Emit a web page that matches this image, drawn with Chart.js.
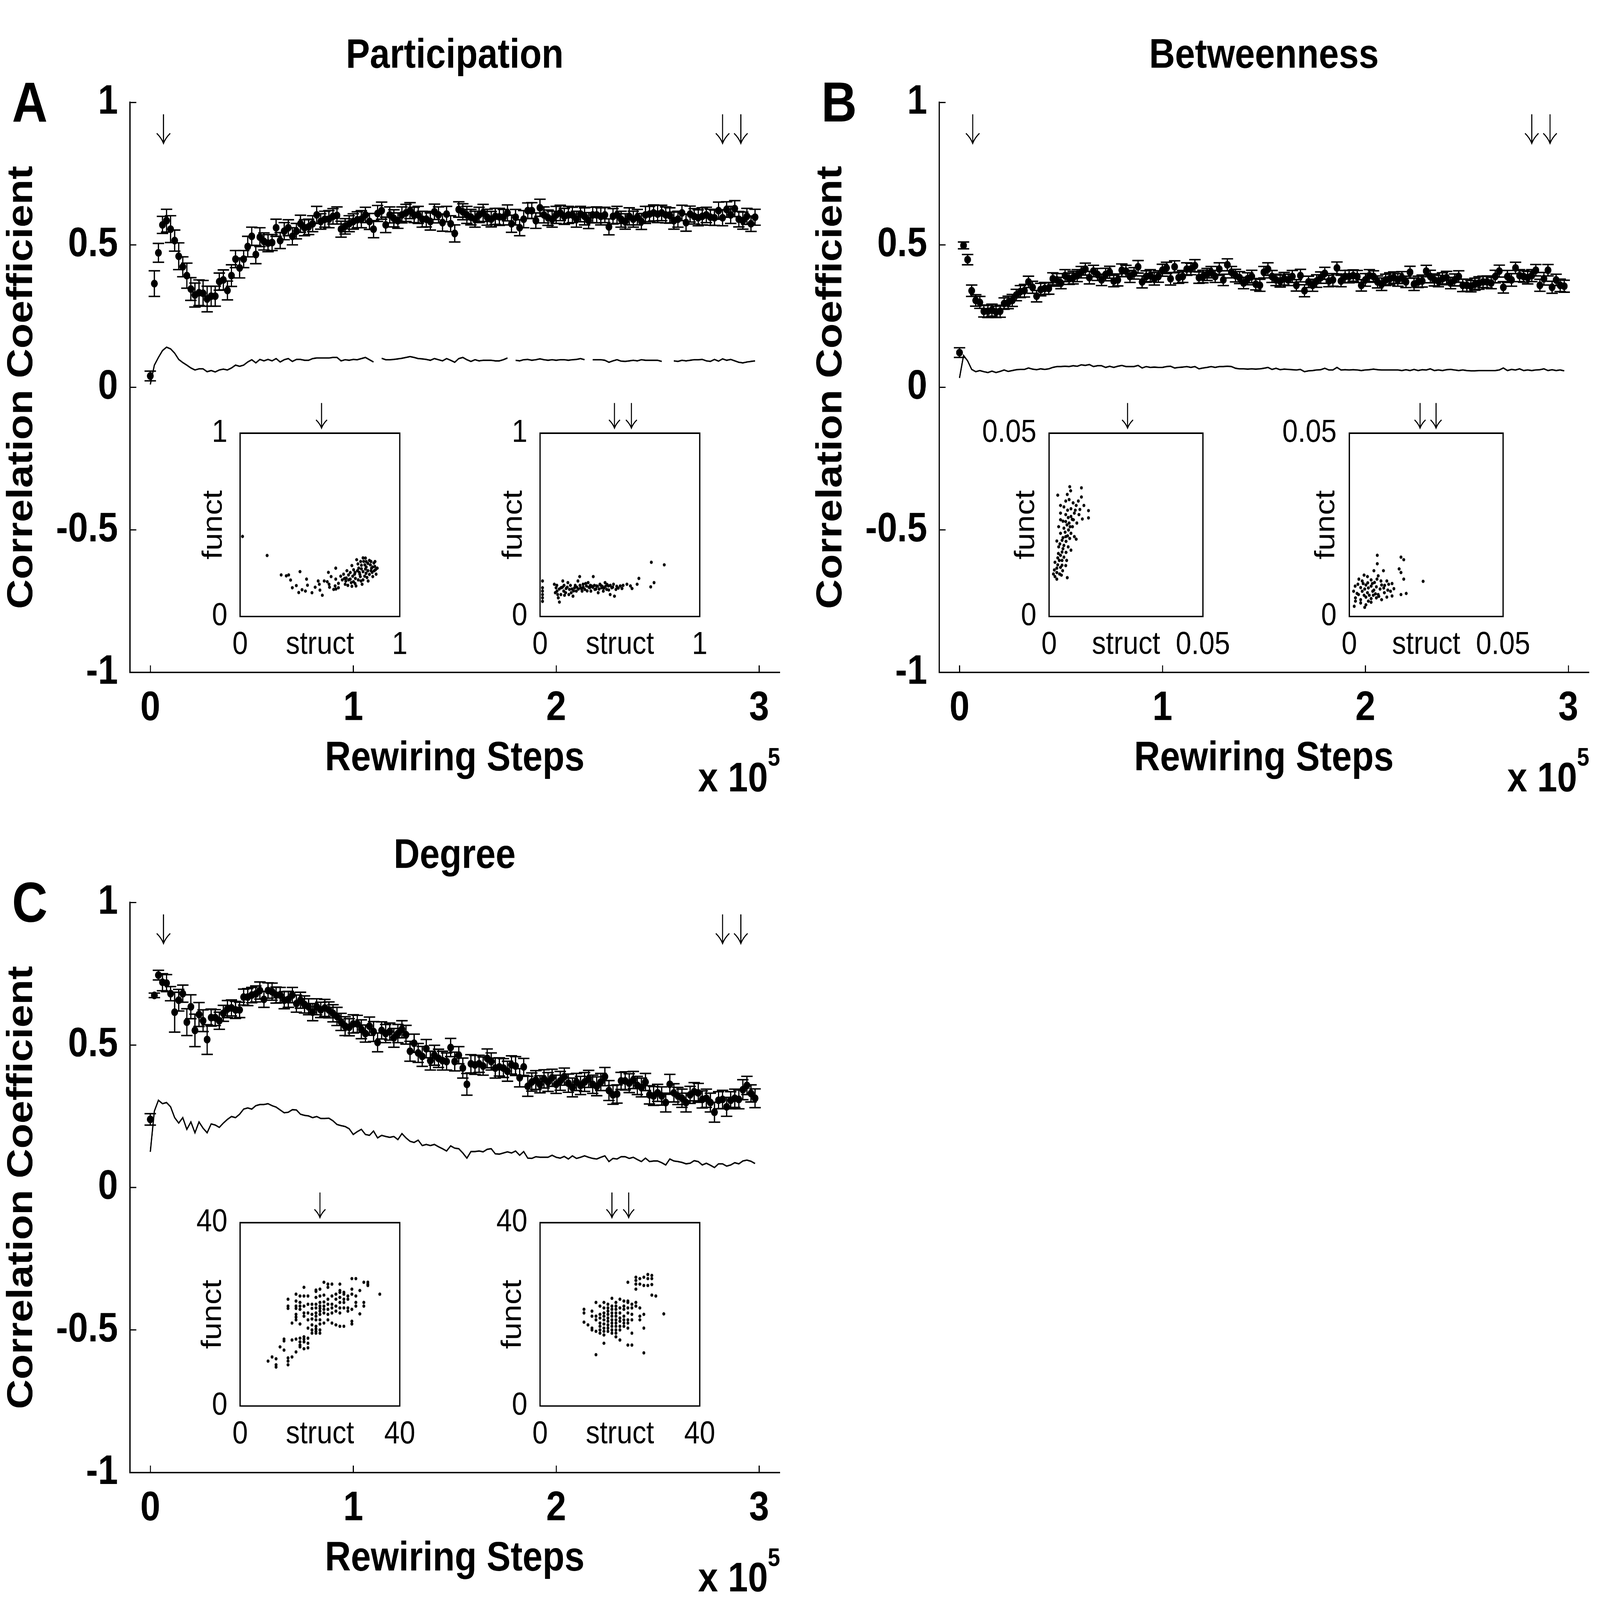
<!DOCTYPE html>
<html>
<head>
<meta charset="utf-8">
<title>Structure-function correlation during rewiring</title>
<script src="https://cdn.jsdelivr.net/npm/chart.js@4.4.1/dist/chart.umd.min.js"></script>
<style>
  html, body { margin: 0; padding: 0; background: #fff; overflow: hidden; }
  #page { position: relative; width: 7569px; height: 6615px; background: #fff;
          font-family: 'Liberation Sans', Arial, Helvetica, sans-serif; }
  .lbl { position: absolute; font-weight: bold; line-height: 1; white-space: nowrap; color: #000; }
</style>
</head>
<body>
<div id="page"></div>
<script>
// x axis: rewiring steps, one sample every 2000 steps (150 samples)
const stepSize = 2000;
const xRange = [-10000, 310000];
const xTicks = [0, 100000, 200000, 300000];
const yTicks = [-1, -0.5, 0, 0.5, 1];
const arrowSteps = [6500, 282000, 291000];

// Participation (A)
const participationMean = [
  0.04, 0.364, 0.472, 0.57, 0.585, 0.555, 0.515, 0.46, 0.423, 0.392,
  0.345, 0.324, 0.332, 0.33, 0.31, 0.32, 0.32, 0.371, 0.377, 0.34,
  0.392, 0.45, 0.419, 0.45, 0.494, 0.53, 0.466, 0.527, 0.512, 0.506,
  0.508, 0.56, 0.515, 0.548, 0.56, 0.53, 0.548, 0.574, 0.56, 0.563,
  0.574, 0.605, 0.582, 0.59, 0.59, 0.6, 0.603, 0.555, 0.565, 0.574,
  0.582, 0.588, 0.59, 0.605, 0.582, 0.555, 0.61, 0.62, 0.57, 0.605,
  0.593, 0.585, 0.605, 0.612, 0.62, 0.605, 0.605, 0.59, 0.59, 0.582,
  0.616, 0.605, 0.578, 0.608, 0.574, 0.54, 0.624, 0.616, 0.605, 0.597,
  0.59, 0.605, 0.612, 0.597, 0.59, 0.6, 0.598, 0.597, 0.612, 0.574,
  0.597, 0.56, 0.59, 0.62, 0.62, 0.585, 0.63, 0.605, 0.595, 0.59,
  0.605, 0.612, 0.6, 0.605, 0.605, 0.59, 0.608, 0.6, 0.585, 0.605,
  0.605, 0.6, 0.605, 0.563, 0.6, 0.605, 0.59, 0.582, 0.6, 0.59,
  0.597, 0.582, 0.605, 0.608, 0.612, 0.608, 0.612, 0.605, 0.603, 0.585,
  0.59, 0.612, 0.578, 0.608, 0.6, 0.595, 0.6, 0.605, 0.597, 0.595,
  0.62, 0.595, 0.624, 0.605, 0.627, 0.59, 0.585, 0.6, 0.574, 0.597
];
const participationErr = [
  0.017, 0.045, 0.033, 0.03, 0.04, 0.047, 0.037, 0.047, 0.035, 0.044,
  0.04, 0.042, 0.045, 0.045, 0.045, 0.035, 0.035, 0.03, 0.035, 0.033,
  0.038, 0.03, 0.035, 0.03, 0.036, 0.032, 0.032, 0.033, 0.03, 0.03,
  0.028, 0.03, 0.028, 0.03, 0.028, 0.03, 0.027, 0.03, 0.028, 0.027,
  0.028, 0.03, 0.027, 0.028, 0.03, 0.027, 0.03, 0.028, 0.027, 0.028,
  0.027, 0.028, 0.03, 0.027, 0.028, 0.03, 0.028, 0.03, 0.027, 0.028,
  0.03, 0.027, 0.028, 0.03, 0.028, 0.027, 0.03, 0.028, 0.027, 0.03,
  0.027, 0.028, 0.03, 0.027, 0.028, 0.03, 0.027, 0.028, 0.03, 0.027,
  0.028, 0.027, 0.03, 0.028, 0.027, 0.028, 0.03, 0.027, 0.028, 0.03,
  0.027, 0.028, 0.03, 0.027, 0.028, 0.027, 0.03, 0.028, 0.027, 0.028,
  0.03, 0.027, 0.028, 0.03, 0.027, 0.028, 0.027, 0.03, 0.028, 0.027,
  0.028, 0.03, 0.027, 0.028, 0.027, 0.03, 0.028, 0.027, 0.03, 0.028,
  0.027, 0.028, 0.03, 0.027, 0.028, 0.03, 0.027, 0.028, 0.027, 0.03,
  0.028, 0.027, 0.03, 0.028, 0.027, 0.028, 0.03, 0.027, 0.028, 0.027,
  0.03, 0.028, 0.027, 0.03, 0.028, 0.027, 0.03, 0.028, 0.027, 0.028
];
const participationNull = [
  0.01, 0.078, 0.105, 0.129, 0.141, 0.135, 0.12, 0.098, 0.087, 0.078,
  0.068, 0.061, 0.065, 0.065, 0.055, 0.059, 0.054, 0.061, 0.064, 0.061,
  0.068, 0.078, 0.074, 0.078, 0.089, 0.097, 0.086, 0.098, 0.093, 0.098,
  0.093, 0.101, 0.089, 0.097, 0.101, 0.091, 0.098, 0.098, 0.095, 0.095,
  0.101, 0.103, 0.103, 0.103, 0.103, 0.105, 0.105, 0.093, 0.097, 0.095,
  0.098, 0.097, 0.101, 0.105, 0.097, 0.089, null, 0.102, 0.097, 0.097,
  0.098, 0.1, 0.102, 0.105, 0.108, 0.105, 0.101, 0.1, 0.098, 0.095,
  0.101, 0.097, 0.093, 0.101, 0.095, 0.088, 0.101, 0.105, 0.097, 0.091,
  0.097, 0.093, 0.095, 0.095, 0.095, 0.093, 0.093, 0.097, 0.103, null,
  0.095, 0.093, 0.097, 0.098, 0.095, 0.097, 0.1, 0.097, 0.095, 0.097,
  0.095, 0.097, 0.097, 0.095, 0.097, 0.098, 0.101, 0.097, null, 0.097,
  0.097, 0.097, 0.095, 0.088, 0.093, 0.097, 0.092, 0.091, 0.093, 0.095,
  0.093, 0.097, 0.095, 0.095, 0.095, 0.095, 0.091, null, null, 0.093,
  0.091, 0.095, 0.093, 0.095, 0.097, 0.097, 0.098, 0.093, 0.091, 0.098,
  0.092, 0.1, 0.095, 0.098, 0.093, 0.088, 0.086, 0.089, 0.091, 0.093
];

// Betweenness (B)
const betweennessMean = [
  0.122, 0.498, 0.448, 0.339, 0.305, 0.298, 0.267, 0.267, 0.271, 0.265,
  0.267, 0.294, 0.298, 0.305, 0.324, 0.336, 0.339, 0.37, 0.351, 0.32,
  0.343, 0.347, 0.347, 0.381, 0.377, 0.366, 0.392, 0.381, 0.385, 0.392,
  0.404, 0.415, 0.385, 0.408, 0.396, 0.377, 0.396, 0.404, 0.373, 0.377,
  0.411, 0.408, 0.389, 0.4, 0.423, 0.37, 0.389, 0.392, 0.381, 0.389,
  0.411, 0.419, 0.381, 0.423, 0.385, 0.389, 0.415, 0.415, 0.427, 0.385,
  0.389, 0.396, 0.404, 0.389, 0.415, 0.377, 0.43, 0.404, 0.392, 0.385,
  0.366, 0.381, 0.389, 0.362, 0.358, 0.404, 0.415, 0.389, 0.377, 0.373,
  0.381, 0.377, 0.389, 0.358, 0.392, 0.339, 0.37, 0.358, 0.373, 0.385,
  0.4, 0.373, 0.377, 0.419, 0.373, 0.389, 0.389, 0.392, 0.389, 0.358,
  0.377, 0.392, 0.389, 0.37, 0.362, 0.377, 0.381, 0.385, 0.377, 0.385,
  0.37, 0.404, 0.362, 0.37, 0.373, 0.408, 0.389, 0.377, 0.373, 0.381,
  0.385, 0.366, 0.377, 0.389, 0.358, 0.358, 0.355, 0.362, 0.366, 0.37,
  0.37, 0.366, 0.389, 0.408, 0.351, 0.389, 0.377, 0.419, 0.392, 0.389,
  0.385, 0.392, 0.411, 0.358, 0.381, 0.411, 0.351, 0.377, 0.358, 0.355
];
const betweennessErr = [
  0.017, 0.012, 0.018, 0.02, 0.02, 0.021, 0.02, 0.022, 0.021, 0.02,
  0.021, 0.02, 0.022, 0.021, 0.02, 0.021, 0.022, 0.02, 0.021, 0.02,
  0.022, 0.021, 0.02, 0.021, 0.022, 0.02, 0.021, 0.02, 0.022, 0.021,
  0.02, 0.021, 0.022, 0.02, 0.021, 0.02, 0.022, 0.021, 0.02, 0.021,
  0.022, 0.02, 0.021, 0.02, 0.022, 0.021, 0.02, 0.021, 0.022, 0.02,
  0.021, 0.02, 0.022, 0.021, 0.02, 0.021, 0.022, 0.02, 0.021, 0.02,
  0.022, 0.021, 0.02, 0.021, 0.022, 0.02, 0.021, 0.02, 0.022, 0.021,
  0.02, 0.021, 0.022, 0.02, 0.021, 0.02, 0.022, 0.021, 0.02, 0.021,
  0.022, 0.02, 0.021, 0.02, 0.022, 0.021, 0.02, 0.021, 0.022, 0.02,
  0.021, 0.02, 0.022, 0.021, 0.02, 0.021, 0.022, 0.02, 0.021, 0.02,
  0.022, 0.021, 0.02, 0.021, 0.022, 0.02, 0.021, 0.02, 0.022, 0.021,
  0.02, 0.021, 0.022, 0.02, 0.021, 0.02, 0.022, 0.021, 0.02, 0.021,
  0.022, 0.02, 0.021, 0.02, 0.022, 0.021, 0.02, 0.021, 0.022, 0.02,
  0.021, 0.02, 0.022, 0.021, 0.02, 0.021, 0.022, 0.02, 0.021, 0.02,
  0.022, 0.021, 0.02, 0.021, 0.022, 0.02, 0.021, 0.02, 0.022, 0.021
];
const betweennessNull = [
  0.033, 0.112, 0.093, 0.063, 0.055, 0.059, 0.055, 0.052, 0.057, 0.052,
  0.056, 0.061, 0.056, 0.059, 0.062, 0.063, 0.063, 0.068, 0.064, 0.062,
  0.065, 0.063, 0.065, 0.07, 0.073, 0.073, 0.074, 0.073, 0.076, 0.074,
  0.079, 0.077, 0.08, 0.073, 0.076, 0.076, 0.07, 0.074, 0.07, 0.074,
  0.077, 0.073, 0.073, 0.073, 0.077, 0.068, 0.073, 0.07, 0.071, 0.07,
  0.07, 0.073, 0.074, 0.068, 0.07, 0.071, 0.073, 0.07, 0.073, 0.065,
  0.068, 0.07, 0.073, 0.07, 0.073, 0.073, 0.074, 0.073, 0.067, 0.065,
  0.065, 0.064, 0.065, 0.064, 0.065, 0.067, 0.07, 0.063, 0.067, 0.062,
  0.064, 0.063, 0.062, 0.061, 0.063, 0.055, 0.058, 0.059, 0.061, 0.062,
  0.067, 0.061, 0.061, 0.07, 0.061, 0.062, 0.061, 0.062, 0.061, 0.059,
  0.061, 0.062, 0.064, 0.062, 0.061, 0.061, 0.061, 0.061, 0.061, 0.059,
  0.062, 0.059, 0.063, 0.059, 0.062, 0.061, 0.065, 0.059, 0.061, 0.059,
  0.062, 0.063, 0.061, 0.059, 0.061, 0.059, 0.058, 0.058, 0.059, 0.059,
  0.059, 0.059, 0.059, 0.061, 0.068, 0.059, 0.063, 0.061, 0.065, 0.059,
  0.061, 0.059, 0.061, 0.062, 0.065, 0.059, 0.062, 0.059, 0.061, 0.058
];

// Degree (C)
const degreeMean = [
  0.239, 0.674, 0.745, 0.72, 0.717, 0.68, 0.615, 0.657, 0.68, 0.58,
  0.634, 0.551, 0.607, 0.585, 0.519, 0.596, 0.596, 0.585, 0.611, 0.626,
  0.63, 0.623, 0.623, 0.668, 0.668, 0.675, 0.679, 0.691, 0.66, 0.691,
  0.687, 0.675, 0.675, 0.657, 0.66, 0.675, 0.645, 0.657, 0.642, 0.634,
  0.615, 0.634, 0.623, 0.63, 0.623, 0.611, 0.6, 0.581, 0.566, 0.562,
  0.574, 0.574, 0.555, 0.54, 0.566, 0.547, 0.509, 0.551, 0.54, 0.547,
  0.525, 0.54, 0.555, 0.536, 0.478, 0.506, 0.472, 0.46, 0.487, 0.445,
  0.464, 0.453, 0.445, 0.442, 0.491, 0.442, 0.464, 0.419, 0.362, 0.434,
  0.43, 0.434, 0.426, 0.453, 0.442, 0.419, 0.423, 0.419, 0.408, 0.43,
  0.426, 0.385, 0.423, 0.355, 0.37, 0.377, 0.362, 0.381, 0.37, 0.385,
  0.362, 0.374, 0.389, 0.366, 0.351, 0.37, 0.358, 0.37, 0.381, 0.362,
  0.355, 0.37, 0.389, 0.34, 0.325, 0.328, 0.374, 0.374, 0.366, 0.377,
  0.358, 0.351, 0.37, 0.325, 0.321, 0.332, 0.321, 0.298, 0.362, 0.332,
  0.321, 0.313, 0.298, 0.325, 0.336, 0.332, 0.309, 0.313, 0.298, 0.264,
  0.306, 0.309, 0.283, 0.306, 0.313, 0.309, 0.343, 0.358, 0.33, 0.313
];
const degreeErr = [
  0.02, 0.008, 0.017, 0.03, 0.03, 0.025, 0.07, 0.038, 0.03, 0.047,
  0.042, 0.057, 0.042, 0.038, 0.052, 0.03, 0.028, 0.03, 0.028, 0.03,
  0.028, 0.03, 0.027, 0.028, 0.03, 0.027, 0.028, 0.03, 0.028, 0.027,
  0.03, 0.028, 0.027, 0.03, 0.028, 0.027, 0.03, 0.028, 0.03, 0.028,
  0.03, 0.028, 0.027, 0.03, 0.028, 0.03, 0.032, 0.03, 0.033, 0.03,
  0.032, 0.03, 0.033, 0.03, 0.032, 0.035, 0.033, 0.03, 0.032, 0.03,
  0.033, 0.032, 0.03, 0.033, 0.035, 0.032, 0.033, 0.035, 0.032, 0.033,
  0.035, 0.032, 0.033, 0.03, 0.032, 0.033, 0.03, 0.035, 0.038, 0.032,
  0.033, 0.03, 0.032, 0.033, 0.03, 0.035, 0.032, 0.033, 0.035, 0.032,
  0.033, 0.032, 0.03, 0.035, 0.032, 0.033, 0.03, 0.032, 0.033, 0.03,
  0.032, 0.033, 0.03, 0.032, 0.033, 0.03, 0.032, 0.033, 0.03, 0.032,
  0.033, 0.03, 0.032, 0.035, 0.033, 0.032, 0.03, 0.032, 0.033, 0.03,
  0.032, 0.033, 0.03, 0.032, 0.033, 0.03, 0.032, 0.033, 0.035, 0.032,
  0.03, 0.032, 0.033, 0.03, 0.032, 0.033, 0.03, 0.032, 0.033, 0.035,
  0.03, 0.032, 0.033, 0.03, 0.032, 0.033, 0.035, 0.032, 0.03, 0.033
];
const degreeNull = [
  0.125, 0.268, 0.306, 0.294, 0.298, 0.283, 0.245, 0.226, 0.245, 0.204,
  0.23, 0.192, 0.23, 0.208, 0.192, 0.223, 0.219, 0.211, 0.226, 0.239,
  0.249, 0.245, 0.257, 0.275, 0.279, 0.275, 0.287, 0.291, 0.291, 0.294,
  0.287, 0.282, 0.272, 0.262, 0.264, 0.273, 0.272, 0.257, 0.253, 0.251,
  0.245, 0.249, 0.242, 0.242, 0.243, 0.234, 0.221, 0.217, 0.214, 0.206,
  0.186, 0.196, 0.204, 0.186, 0.183, 0.198, 0.174, 0.183, 0.179, 0.176,
  0.179, 0.168, 0.189, 0.174, 0.162, 0.158, 0.166, 0.147, 0.151, 0.147,
  0.151, 0.143, 0.136, 0.128, 0.146, 0.138, 0.136, 0.121, 0.103, 0.126,
  0.126, 0.128, 0.125, 0.134, 0.136, 0.118, 0.117, 0.121, 0.125, 0.121,
  0.128, 0.113, 0.126, 0.103, 0.102, 0.108, 0.106, 0.106, 0.106, 0.113,
  0.106, 0.103, 0.109, 0.1, 0.111, 0.102, 0.106, 0.111, 0.106, 0.102,
  0.1, 0.106, 0.111, 0.091, 0.102, 0.1, 0.108, 0.108, 0.102, 0.106,
  0.098, 0.091, 0.103, 0.091, 0.093, 0.093, 0.087, 0.079, 0.1, 0.093,
  0.091, 0.088, 0.083, 0.085, 0.094, 0.091, 0.079, 0.085, 0.078, 0.07,
  0.083, 0.083, 0.075, 0.079, 0.087, 0.083, 0.093, 0.096, 0.092, 0.084
];

// inset scatters: [struct, funct] per node, early (single arrow) and late (double arrow)
const participationEarly = [
  [0.015,0.437],[0.169,0.333],[0.257,0.227],[0.289,0.222],[0.304,0.227],[0.316,0.199],[0.375,0.245],
  [0.416,0.204],[0.327,0.157],[0.352,0.169],[0.367,0.131],[0.388,0.146],[0.409,0.139],[0.422,0.171],
  [0.489,0.194],[0.496,0.176],[0.5,0.144],[0.515,0.116],[0.527,0.194],[0.546,0.19],[0.557,0.176],
  [0.553,0.241],[0.57,0.218],[0.586,0.148],[0.595,0.167],[0.599,0.204],[0.599,0.264],[0.616,0.157],
  [0.616,0.181],[0.648,0.231],[0.654,0.208],[0.662,0.194],[0.658,0.176],[0.669,0.25],[0.679,0.227],
  [0.69,0.204],[0.696,0.185],[0.7,0.278],[0.711,0.255],[0.717,0.231],[0.722,0.208],[0.726,0.167],
  [0.73,0.31],[0.738,0.287],[0.743,0.264],[0.747,0.241],[0.753,0.218],[0.757,0.194],[0.764,0.176],
  [0.774,0.301],[0.781,0.282],[0.785,0.259],[0.789,0.236],[0.795,0.213],[0.802,0.194],[0.785,0.319],
  [0.81,0.306],[0.816,0.282],[0.823,0.264],[0.827,0.241],[0.831,0.218],[0.838,0.292],[0.844,0.273],
  [0.848,0.255],[0.852,0.231],[0.859,0.264],[0.68,0.2],[0.705,0.22],[0.72,0.24],[0.735,0.25],
  [0.75,0.23],[0.76,0.26],[0.77,0.245],[0.78,0.22],[0.79,0.27],[0.8,0.25],[0.81,0.23],[0.82,0.25],
  [0.83,0.27],[0.845,0.3],[0.8,0.29],[0.76,0.28],[0.74,0.2],[0.71,0.19],[0.69,0.24],[0.665,0.21],
  [0.675,0.17],[0.64,0.2],[0.63,0.22],[0.7,0.165],[0.72,0.18],[0.77,0.2],[0.79,0.3],[0.77,0.32],
  [0.82,0.3],[0.84,0.25],[0.755,0.3],[0.6,0.15],[0.56,0.16],[0.45,0.13],[0.47,0.16]
];
const participationLate = [
  [0.015,0.194],[0.015,0.157],[0.015,0.139],[0.015,0.12],[0.015,0.102],[0.015,0.083],[0.089,0.176],
  [0.1,0.157],[0.106,0.139],[0.11,0.12],[0.114,0.102],[0.121,0.079],[0.131,0.157],[0.142,0.194],
  [0.148,0.139],[0.153,0.116],[0.163,0.153],[0.174,0.185],[0.184,0.148],[0.195,0.13],[0.206,0.111],
  [0.216,0.157],[0.227,0.139],[0.237,0.194],[0.248,0.218],[0.254,0.157],[0.263,0.139],[0.269,0.176],
  [0.28,0.148],[0.29,0.167],[0.301,0.185],[0.311,0.157],[0.318,0.139],[0.322,0.167],[0.333,0.218],
  [0.343,0.148],[0.354,0.167],[0.364,0.13],[0.375,0.176],[0.386,0.157],[0.396,0.139],[0.407,0.185],
  [0.417,0.148],[0.428,0.167],[0.439,0.12],[0.449,0.157],[0.46,0.176],[0.466,0.111],[0.475,0.148],
  [0.502,0.167],[0.513,0.153],[0.544,0.176],[0.566,0.167],[0.576,0.153],[0.608,0.176],[0.619,0.208],
  [0.693,0.162],[0.697,0.296],[0.714,0.185],[0.778,0.282],[0.095,0.13],[0.105,0.17],[0.12,0.15],
  [0.13,0.12],[0.14,0.16],[0.15,0.17],[0.16,0.13],[0.17,0.16],[0.18,0.12],[0.19,0.17],[0.2,0.15],
  [0.21,0.14],[0.22,0.17],[0.23,0.16],[0.24,0.15],[0.25,0.17],[0.26,0.15],[0.27,0.16],[0.285,0.18],
  [0.295,0.14],[0.305,0.16],[0.315,0.17],[0.33,0.16],[0.34,0.17],[0.35,0.15],[0.36,0.165],[0.37,0.15],
  [0.38,0.17],[0.39,0.165],[0.4,0.155],[0.41,0.165],[0.42,0.175],[0.43,0.145],[0.44,0.17],[0.455,0.16],
  [0.48,0.165],[0.49,0.155],[0.52,0.17]
];
const betweennessEarly = [
  [0.0105,0.0351],[0.0067,0.0354],[0.007,0.0343],[0.0059,0.0333],[0.0028,0.0331],[0.0105,0.0326],
  [0.0065,0.0319],[0.0054,0.0315],[0.0037,0.0303],[0.0048,0.0299],[0.0071,0.0294],[0.0088,0.0303],
  [0.0113,0.0303],[0.01,0.0292],[0.0128,0.0289],[0.0037,0.0282],[0.0054,0.0278],[0.0071,0.0273],
  [0.0082,0.0282],[0.0097,0.0278],[0.0128,0.0269],[0.0108,0.0266],[0.0037,0.0264],[0.0054,0.0259],
  [0.0065,0.0255],[0.0079,0.0264],[0.009,0.0255],[0.0031,0.0245],[0.0048,0.0241],[0.0063,0.0236],
  [0.0076,0.0245],[0.0071,0.0227],[0.0037,0.0227],[0.0054,0.0218],[0.0042,0.0208],[0.0067,0.0213],
  [0.0082,0.0218],[0.0025,0.0206],[0.0088,0.0211],[0.0048,0.0194],[0.0031,0.019],[0.0071,0.0181],
  [0.0042,0.0176],[0.0037,0.0167],[0.0048,0.0162],[0.0042,0.0153],[0.0033,0.0153],[0.0019,0.0148],
  [0.0028,0.0141],[0.0037,0.0134],[0.0054,0.0139],[0.0057,0.0153],[0.0017,0.0127],[0.0025,0.012],
  [0.0034,0.0116],[0.0044,0.0125],[0.0014,0.0116],[0.0019,0.0109],[0.0025,0.0102],[0.0059,0.0106],
  [0.004,0.0113],[0.006,0.029],[0.0062,0.027],[0.0058,0.025],[0.0045,0.026],[0.0068,0.0245],
  [0.0052,0.023],[0.006,0.022],[0.0045,0.0215],[0.0035,0.0198],[0.0055,0.0205],[0.0062,0.019],
  [0.0045,0.0185],[0.003,0.0172],[0.0055,0.0175],[0.0028,0.016],[0.0042,0.014],[0.0025,0.0132],
  [0.0075,0.0265],[0.0085,0.029],[0.0078,0.031],[0.0095,0.0315]
];
const betweennessLate = [
  [0.0091,0.0167],[0.0168,0.0162],[0.0177,0.0155],[0.0091,0.0144],[0.008,0.0125],[0.0111,0.0125],
  [0.0162,0.013],[0.0168,0.012],[0.0048,0.0113],[0.0059,0.0109],[0.0094,0.0111],[0.0031,0.0102],
  [0.0042,0.0097],[0.0071,0.01],[0.0082,0.0093],[0.0103,0.0097],[0.0122,0.0097],[0.0177,0.0102],
  [0.024,0.0096],[0.0019,0.0083],[0.0037,0.0079],[0.0054,0.0086],[0.0071,0.0083],[0.0088,0.0081],
  [0.0105,0.0086],[0.0128,0.0088],[0.0139,0.009],[0.0014,0.0069],[0.0025,0.0063],[0.0042,0.0069],
  [0.0059,0.0065],[0.0076,0.0069],[0.0094,0.006],[0.0114,0.0065],[0.0134,0.0069],[0.0145,0.0076],
  [0.0168,0.006],[0.0185,0.0063],[0.0139,0.0056],[0.002,0.0051],[0.0037,0.0046],[0.0054,0.0053],
  [0.0071,0.0049],[0.0088,0.0051],[0.0105,0.0046],[0.0122,0.0053],[0.0016,0.0028],[0.0037,0.0037],
  [0.0054,0.0032],[0.0071,0.0039],[0.005,0.0025],[0.003,0.006],[0.005,0.0075],[0.0065,0.0058],
  [0.008,0.0072],[0.0062,0.0078],[0.0048,0.0058],[0.0085,0.0062],[0.01,0.0075],[0.0112,0.0078],
  [0.0028,0.0088],[0.0045,0.009],[0.006,0.0092],[0.0075,0.009],[0.009,0.0102],[0.002,0.0042],
  [0.0062,0.0042],[0.0078,0.0058],[0.0096,0.0055],[0.0115,0.0085],[0.0125,0.0072]
];
const degreeEarly = [
  [7,9.8],[8,10.7],[9,10.3],[9,9.0],[9,8.5],[10,12.9],[11,14.6],[11,14.2],[11,12.2],
  [12,23.3],[12,21.8],[12,21.3],[12,10.5],[12,9.8],[12,9.0],[13,18.1],[13,14.4],[13,10.7],
  [14,24.4],[14,22.9],[14,21.8],[14,21.3],[14,20.0],[14,19.4],[14,18.8],[14,14.6],[14,11.8],
  [15,24.0],[15,22.6],[15,21.8],[15,21.1],[15,17.9],[15,14.8],[15,14.0],[15,13.3],[15,12.9],
  [16,25.9],[16,24.0],[16,21.8],[16,20.3],[16,19.6],[16,15.1],[16,14.6],[16,14.0],[16,12.5],
  [17,24.0],[17,22.2],[17,20.3],[17,18.8],[17,17.0],[17,14.8],[17,13.7],[17,12.7],
  [18,22.2],[18,21.3],[18,20.0],[18,19.0],[18,17.7],[18,16.6],[18,15.9],
  [19,25.3],[19,25.0],[19,23.7],[19,22.2],[19,21.4],[19,20.3],[19,19.6],[19,18.8],[19,17.4],[19,16.8],[19,16.3],[19,15.9],
  [20,25.5],[20,24.0],[20,22.6],[20,21.8],[20,21.3],[20,20.7],[20,20.0],[20,18.8],[20,17.9],[20,16.6],[20,15.9],
  [21,27.0],[21,24.2],[21,22.7],[21,21.8],[21,21.1],[21,20.3],[21,18.1],
  [22,26.6],[22,25.9],[22,23.3],[22,22.2],[22,21.1],[22,20.0],[22,18.8],
  [23,26.6],[23,24.0],[23,22.2],[23,21.4],[23,20.3],[23,18.1],
  [24,24.4],[24,23.3],[24,21.8],[24,20.7],[24,17.7],
  [25,26.6],[25,25.2],[25,24.8],[25,23.7],[25,22.6],[25,21.4],[25,20.3],[25,17.4],
  [26,24.8],[26,24.4],[26,23.3],[26,22.6],[26,21.4],[26,17.4],
  [27,24.0],[27,23.3],[27,21.4],[27,20.7],
  [28,27.8],[28,25.5],[28,24.4],[28,21.1],[28,18.5],[28,17.9],
  [29,27.8],[29,24.0],[29,22.6],[29,21.8],[30,25.2],[30,20.1],
  [31,27.0],[31,22.6],[31,21.8],[32,27.0],[32,26.6],[32,26.3],[35,24.4]
];
const degreeLate = [
  [11,21.1],[11,20.3],[11,18.3],[12,17.7],[13,20.7],[13,19.6],[13,17.0],[13,16.6],
  [14,22.6],[14,19.6],[14,18.8],[14,16.3],[14,11.2],
  [15,21.8],[15,20.0],[15,19.2],[15,18.1],[15,17.4],[15,16.6],[15,15.9],
  [16,22.6],[16,21.4],[16,20.3],[16,19.6],[16,18.8],[16,17.9],[16,17.0],[16,16.3],[16,15.5],[16,13.7],
  [17,22.2],[17,21.4],[17,20.7],[17,20.0],[17,19.2],[17,18.5],[17,17.7],[17,17.0],[17,16.3],
  [18,23.5],[18,21.8],[18,21.1],[18,20.3],[18,19.6],[18,18.8],[18,18.1],[18,17.4],[18,16.6],[18,15.9],
  [19,22.6],[19,21.8],[19,21.1],[19,20.3],[19,19.6],[19,18.8],[19,18.1],[19,17.4],[19,16.6],[19,15.9],[19,15.1],
  [20,23.3],[20,21.4],[20,20.3],[20,19.2],[20,18.5],[20,17.4],[20,16.6],[20,14.4],
  [21,22.9],[21,21.8],[21,21.1],[21,19.6],[21,18.8],[21,18.1],[21,17.4],
  [22,27.0],[22,22.9],[22,22.6],[22,21.4],[22,20.3],[22,18.8],[22,18.1],[22,17.0],[22,13.3],
  [23,22.2],[23,21.4],[23,20.0],[23,18.8],[23,15.9],[23,13.3],
  [24,28.1],[24,27.4],[24,26.6],[24,25.5],[24,22.6],[24,21.8],
  [25,27.8],[25,26.6],[25,21.4],[25,19.6],[25,18.8],
  [26,28.1],[26,26.3],[26,20.0],[26,17.0],[26,11.6],
  [27,28.7],[27,27.8],[27,26.3],[28,28.5],[28,27.8],[28,26.5],[28,24.2],[29,24.0],[31,20.1]
];

const FONT = "'Liberation Sans', Arial, Helvetica, sans-serif";
const PAGE_W = 7569, PAGE_H = 6615;
const page = document.getElementById('page');
const steps = participationMean.map((_, i) => i * stepSize);

// the figure is laid out at 7569x6615; if the window is not that size, scale it to fill the window
const fitX = window.innerWidth / PAGE_W, fitY = window.innerHeight / PAGE_H;
if (Math.abs(fitX - 1) > 0.001 || Math.abs(fitY - 1) > 0.001) {
  page.style.transformOrigin = '0 0';
  page.style.transform = `scale(${fitX}, ${fitY})`;
}

function addCanvas(left, top, w, h) {
  const c = document.createElement('canvas');
  c.width = w;
  c.height = h;
  c.style.cssText = `position:absolute;left:${left}px;top:${top}px;width:${w}px;height:${h}px;`;
  page.appendChild(c);
  return c;
}

function addLabel(text, left, top, size) {
  const d = document.createElement('div');
  d.className = 'lbl';
  d.textContent = text;
  d.style.left = left + 'px';
  d.style.top = top + 'px';
  d.style.fontSize = size + 'px';
  page.appendChild(d);
}

// vertical error bars with caps, placed through the chart scales
const errorBars = {
  id: 'errorBars',
  afterDatasetsDraw(chart) {
    const { ctx, scales: { x, y } } = chart;
    chart.data.datasets.forEach(ds => {
      if (!ds.errors) return;
      ctx.save();
      ctx.strokeStyle = '#000';
      ctx.lineWidth = 6;
      ds.data.forEach((p, i) => {
        const e = ds.errors[i];
        const px = x.getPixelForValue(p.x);
        const top = y.getPixelForValue(p.y + e);
        const bot = y.getPixelForValue(p.y - e);
        ctx.beginPath();
        ctx.moveTo(px, top); ctx.lineTo(px, bot);
        ctx.moveTo(px - 27, top); ctx.lineTo(px + 27, top);
        ctx.moveTo(px - 27, bot); ctx.lineTo(px + 27, bot);
        ctx.stroke();
      });
      ctx.restore();
    });
  }
};

// down arrows marking the two time points
function arrowMarks(xs, yFrom, yTo, head) {
  return {
    id: 'arrowMarks',
    afterDraw(chart) {
      const { ctx, scales: { x, y } } = chart;
      const y0 = y.getPixelForValue(yFrom);
      const y1 = y.getPixelForValue(yTo);
      ctx.save();
      ctx.strokeStyle = '#000';
      ctx.lineWidth = 5;
      xs.forEach(v => {
        const px = x.getPixelForValue(v);
        ctx.beginPath();
        ctx.moveTo(px, y0); ctx.lineTo(px, y1);
        ctx.moveTo(px - head, y1 - head * 1.3);
        ctx.quadraticCurveTo(px - head * 0.3, y1 - head * 0.7, px, y1);
        ctx.quadraticCurveTo(px + head * 0.3, y1 - head * 0.7, px + head, y1 - head * 1.3);
        ctx.stroke();
      });
      ctx.restore();
    }
  };
}

// top and right edges of the inset boxes
const insetFrame = {
  id: 'insetFrame',
  afterDraw(chart) {
    const { ctx, chartArea: a } = chart;
    ctx.save();
    ctx.strokeStyle = '#000';
    ctx.lineWidth = 6;
    ctx.beginPath();
    ctx.moveTo(a.left - 3, a.top);
    ctx.lineTo(a.right, a.top);
    ctx.lineTo(a.right, a.bottom + 3);
    ctx.stroke();
    ctx.restore();
  }
};

const bold = size => ({ family: FONT, size, weight: 'bold' });
const plain = size => ({ family: FONT, size, weight: 'normal' });

function mainPanel(ox, oy, width, title, mean, err, nullLine) {
  const canvas = addCanvas(ox, oy, width, 3300);
  new Chart(canvas, {
    type: 'line',
    data: {
      datasets: [
        {
          data: steps.map((s, i) => ({ x: s, y: nullLine[i] })),
          borderColor: '#000', borderWidth: 6, pointRadius: 0, tension: 0, spanGaps: false
        },
        {
          data: steps.map((s, i) => ({ x: s, y: mean[i] })),
          errors: err,
          showLine: false, pointRadius: 16, pointHoverRadius: 16,
          pointBackgroundColor: '#000', pointBorderColor: '#000', pointBorderWidth: 0
        }
      ]
    },
    options: {
      responsive: false, animation: false, devicePixelRatio: 1, events: [],
      layout: { padding: { left: 0, top: 0, bottom: 0, right: width - 3687 } },
      plugins: {
        legend: { display: false },
        tooltip: { enabled: false },
        title: { display: true, text: title, fullSize: false, color: '#000', font: bold(170), padding: { top: 131, bottom: 88 } }
      },
      scales: {
        x: {
          type: 'linear', min: xRange[0], max: xRange[1],
          afterBuildTicks: s => { s.ticks = xTicks.map(v => ({ value: v })); },
          afterFit: s => { s.height = 520; },
          ticks: { color: '#000', font: bold(170), padding: 77, maxRotation: 0, callback: v => String(v / 1e5) },
          grid: { drawOnChartArea: false, drawTicks: true, tickLength: -29, color: '#000', lineWidth: 5 },
          border: { display: true, color: '#000', width: 6 },
          title: { display: true, text: 'Rewiring Steps', color: '#000', font: bold(170), padding: { top: 0, bottom: 60 } }
        },
        y: {
          type: 'linear', min: -1, max: 1,
          afterBuildTicks: s => { s.ticks = yTicks.map(v => ({ value: v })); },
          afterFit: s => { s.width = 615; },
          ticks: { color: '#000', font: bold(170), padding: 87, callback: v => String(v) },
          grid: { drawOnChartArea: false, drawTicks: true, tickLength: -30, color: '#000', lineWidth: 5 },
          border: { display: true, color: '#000', width: 6 },
          title: { display: true, text: 'Correlation Coefficient', color: '#000', font: bold(170), padding: { top: 3, bottom: 0 } }
        }
      }
    },
    plugins: [errorBars, arrowMarks(arrowSteps, 0.958, 0.856, 32)]
  });
}

// inset canvas keeps 350px left of the box for the tick labels and "funct"
const INSET_LEFT = 350;

function insetPanel(boxLeft, boxTop, points, max, arrowXs, funcX) {
  const canvas = addCanvas(boxLeft - INSET_LEFT, boxTop - 200, INSET_LEFT + 895, 1178);
  new Chart(canvas, {
    type: 'scatter',
    data: {
      datasets: [{
        data: points.map(p => ({ x: p[0], y: p[1] })),
        pointStyle: 'star', pointRadius: 7, pointHoverRadius: 7,
        borderColor: '#000', backgroundColor: '#000', borderWidth: 4
      }]
    },
    options: {
      responsive: false, animation: false, devicePixelRatio: 1, events: [],
      layout: { padding: { left: 0, top: 200, right: 140, bottom: 0 } },
      plugins: { legend: { display: false }, tooltip: { enabled: false } },
      scales: {
        x: {
          type: 'linear', min: 0, max: max,
          afterBuildTicks: s => { s.ticks = [{ value: 0 }, { value: max }]; },
          afterFit: s => { s.height = 220; },
          ticks: { color: '#000', font: plain(132), padding: 39, maxRotation: 0, callback: v => String(v) },
          grid: { display: false, drawTicks: false },
          border: { display: true, color: '#000', width: 6 },
          title: { display: true, text: 'struct', color: '#000', font: plain(132), padding: { top: 0, bottom: 23 } }
        },
        y: {
          type: 'linear', min: 0, max: max,
          afterBuildTicks: s => { s.ticks = [{ value: 0 }, { value: max }]; },
          afterFit: s => { s.width = INSET_LEFT; },
          ticks: { color: '#000', font: plain(132), padding: 60, callback: v => String(v) },
          grid: { display: false, drawTicks: false },
          border: { display: true, color: '#000', width: 6 },
          // funcX: distance of the "funct" centre left of the box
          title: { display: true, text: 'funct', color: '#000', font: plain(132), padding: { top: INSET_LEFT - funcX - 79, bottom: 0 } }
        }
      }
    },
    plugins: [insetFrame, arrowMarks(arrowXs, max * 1.165, max * 1.028, 26)]
  });
}

// panel origins: A, B, C
const panels = [
  { letter: 'A', ox: 0, oy: 0, width: 3850, title: 'Participation', mean: participationMean, err: participationErr, nul: participationNull },
  { letter: 'B', ox: 3828, oy: 0, width: 3741, title: 'Betweenness', mean: betweennessMean, err: betweennessErr, nul: betweennessNull },
  { letter: 'C', ox: 0, oy: 3308, width: 3850, title: 'Degree', mean: degreeMean, err: degreeErr, nul: degreeNull }
];

panels.forEach(p => {
  mainPanel(p.ox, p.oy, p.width, p.title, p.mean, p.err, p.nul);
  addLabel(p.letter, p.ox + 57, p.oy + 306, 233);
  addLabel('x 10', p.ox + 3302, p.oy + 3128, 170);
  addLabel('5', p.ox + 3632, p.oy + 3077, 105);
});

insetPanel(1136, 1791, participationEarly, 1, [0.51], 124);
insetPanel(2555, 1791, participationLate, 1, [0.466, 0.572], 124);
insetPanel(4963, 1791, betweennessEarly, 0.05, [0.0255], 108);
insetPanel(6383, 1791, betweennessLate, 0.05, [0.023, 0.0282], 108);
insetPanel(1136, 5055, degreeEarly, 40, [20], 128);
insetPanel(2555, 5055, degreeLate, 40, [18, 22.2], 128);
</script>
</body>
</html>
